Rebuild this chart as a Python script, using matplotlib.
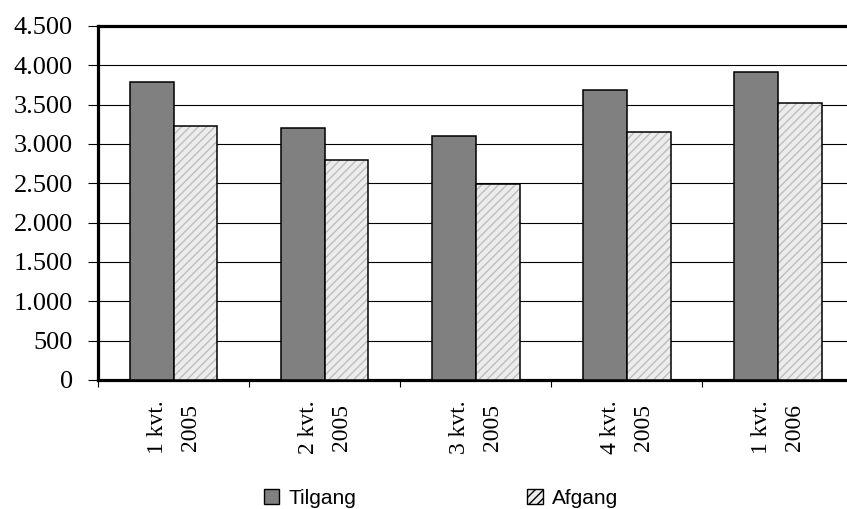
import matplotlib
matplotlib.use("Agg")
import matplotlib.pyplot as plt
import numpy as np
from matplotlib.patches import Patch

categories = ["1 kvt.\n2005", "2 kvt.\n2005", "3 kvt.\n2005", "4 kvt.\n2005", "1 kvt.\n2006"]
tilgang = [3790, 3200, 3100, 3690, 3910]
afgang = [3230, 2800, 2490, 3150, 3520]
yticks = [0, 500, 1000, 1500, 2000, 2500, 3000, 3500, 4000, 4500]
ytick_labels = ["0", "500", "1.000", "1.500", "2.000", "2.500", "3.000", "3.500", "4.000", "4.500"]

W, H = 847, 509
fig = plt.figure(figsize=(W / 100, H / 100), dpi=100)
ax = fig.add_axes([98 / W, 1 - 380 / H, (853.5 - 98) / W, (380 - 26) / H])

x = np.arange(len(categories))
bw = 0.29
plt.rcParams['hatch.linewidth'] = 1.0

ax.bar(x - bw / 2, tilgang, bw, color="#808080", edgecolor="black", linewidth=1.1, zorder=3)
ax.bar(x + bw / 2, afgang, bw, color="#ececec", edgecolor="#bdbdbd", linewidth=0,
       hatch="////", zorder=3)
ax.bar(x + bw / 2, afgang, bw, facecolor="none", edgecolor="black", linewidth=1.1, zorder=4)

ax.set_xlim(-0.5, len(categories) - 0.5)
ax.set_ylim(0, 4500)
ax.set_yticks(yticks)
ax.set_yticklabels(ytick_labels, fontsize=19, family="Liberation Serif")
ax.yaxis.grid(True, color="black", linewidth=0.8)
ax.set_axisbelow(True)
ax.tick_params(axis="y", length=7.2, width=0.8, pad=11)

ax.set_xticks(x)
ax.set_xticklabels(categories, rotation=90, fontsize=17, family="Liberation Serif",
                   linespacing=1.75, va="top", ha="center")
ax.set_xticks(np.arange(-0.5, len(categories), 1.0), minor=True)
ax.tick_params(axis="x", which="major", length=0, pad=15)
ax.tick_params(axis="x", which="minor", length=5, width=0.8)

for s in ["left", "top", "bottom", "right"]:
    ax.spines[s].set_linewidth(2.3)
    ax.spines[s].set_color("black")

handles = [Patch(facecolor="#808080", edgecolor="black", linewidth=1.0),
           Patch(facecolor="#ececec", edgecolor="black", linewidth=1.0, hatch="////")]
fig.legend(handles, ["Tilgang", "Afgang"], loc="center", bbox_to_anchor=(441 / W, 1 - 498 / H),
           ncol=2, frameon=False, prop={"family": "Liberation Sans", "size": 15},
           handlelength=0.75, handleheight=0.75, handletextpad=0.45, columnspacing=8.2)

fig.savefig("out.png", dpi=100)
